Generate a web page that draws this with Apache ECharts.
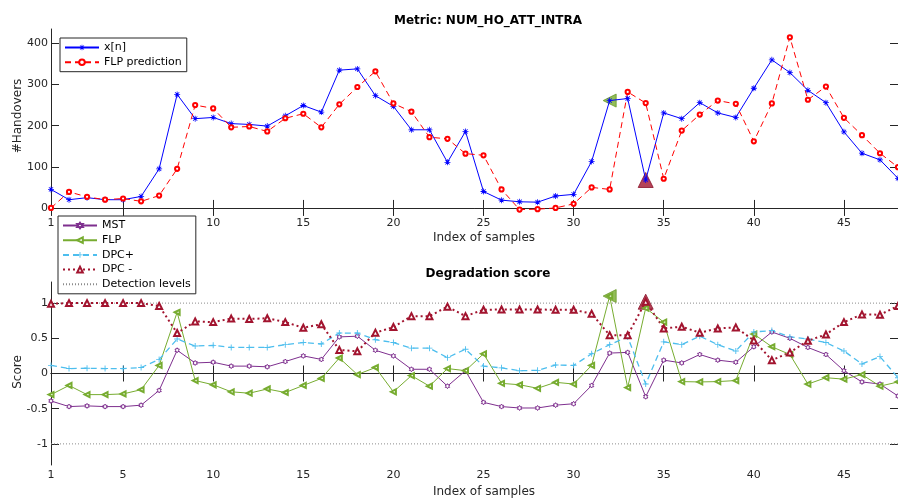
<!DOCTYPE html>
<html>
<head>
<meta charset="utf-8">
<script src="https://cdn.jsdelivr.net/npm/echarts@6/dist/echarts.min.js"></script>
<style>
  html, body { margin: 0; padding: 0; background: #fff; }
  #chart { width: 898px; height: 499px; }
</style>
</head>
<body>
<div id="chart"></div>
<script>
// sample index (x axis)
const sampleIdx = [1, 2, 3, 4, 5, 6, 7, 8, 9, 10, 11, 12, 13, 14, 15, 16, 17, 18, 19, 20, 21, 22, 23, 24,
  25, 26, 27, 28, 29, 30, 31, 32, 33, 34, 35, 36, 37, 38, 39, 40, 41, 42, 43, 44, 45, 46, 47, 48];
const xTicks = [1, 5, 10, 15, 20, 25, 30, 35, 40, 45];
const hoTicks = [0, 100, 200, 300, 400];
const scoreTicks = [-1, -0.5, 0, 0.5, 1];

// top plot: metric and its prediction
const xn = [45, 20, 25, 20, 20, 28, 95, 276, 217, 220, 205, 203, 199, 224, 249, 233, 335, 338, 273, 247, 190, 190, 111, 186,
  40, 19, 15, 14, 29, 33, 113, 261, 266, 68, 231, 217, 256, 231, 220, 291, 360, 329, 286, 256, 185, 133, 117, 72];
const flpPred = [0, 39, 27, 20, 23, 16, 30, 95, 250, 242, 196, 198, 186, 218, 229, 196, 252, 294, 332, 254, 234, 172, 168, 132,
  128, 45, -4, -3, 0, 10, 50, 45, 282, 255, 71, 188, 227, 261, 253, 162, 254, 415, 263, 295, 219, 177, 133, 99];

// bottom plot: degradation scores
const mst = [-0.39, -0.47, -0.46, -0.47, -0.47, -0.45, -0.24, 0.33, 0.15, 0.16, 0.105, 0.105, 0.095, 0.17, 0.25, 0.2,
  0.52, 0.53, 0.33, 0.25, 0.06, 0.06, -0.18, 0.04, -0.41, -0.47, -0.49, -0.49, -0.45, -0.43, -0.17, 0.29,
  0.3, -0.33, 0.19, 0.15, 0.27, 0.19, 0.16, 0.38, 0.59, 0.5, 0.37, 0.27, 0.04, -0.12, -0.15, -0.32];
const flpScore = [-0.3, -0.17, -0.3, -0.3, -0.29, -0.23, 0.115, 0.87, -0.1, -0.16, -0.26, -0.28, -0.22, -0.27, -0.17, -0.07,
  0.22, -0.015, 0.085, -0.26, -0.03, -0.18, 0.07, 0.04, 0.28, -0.14, -0.16, -0.21, -0.125, -0.15, 0.115, 1.1,
  -0.2, 0.93, 0.73, -0.115, -0.12, -0.115, -0.1, 0.56, 0.38, 0.27, -0.15, -0.06, -0.08, -0.015, -0.18, -0.12];
const dpcPlus = [0.115, 0.07, 0.075, 0.07, 0.07, 0.085, 0.2, 0.49, 0.39, 0.4, 0.37, 0.37, 0.37, 0.41, 0.44, 0.42,
  0.575, 0.575, 0.48, 0.44, 0.36, 0.36, 0.225, 0.345, 0.105, 0.08, 0.04, 0.045, 0.12, 0.115, 0.28, 0.41,
  0.52, -0.15, 0.45, 0.41, 0.53, 0.41, 0.32, 0.59, 0.61, 0.52, 0.49, 0.44, 0.32, 0.135, 0.24, -0.06];
const dpcMinus = [0.99, 1, 1, 1, 1, 1, 0.96, 0.575, 0.74, 0.73, 0.78, 0.775, 0.785, 0.73, 0.65, 0.7,
  0.335, 0.315, 0.58, 0.66, 0.815, 0.815, 0.95, 0.815, 0.905, 0.91, 0.91, 0.91, 0.905, 0.905, 0.85, 0.545,
  0.545, 1.02, 0.64, 0.665, 0.58, 0.64, 0.655, 0.47, 0.19, 0.3, 0.465, 0.555, 0.73, 0.84, 0.835, 0.96];
const detectionLevels = [1, -1];

// samples where an alarm was raised
const flpAlarmIdx = [32];
const dpcAlarmIdx = [34];

const FONT = 'DejaVu Sans';
const AX = '#262626';
const ASTERISK = 'path://M-1.3,-10L1.3,-10L1.3,10L-1.3,10Z M-10,-1.3L10,-1.3L10,1.3L-10,1.3Z ' +
  'M-6.2,-8L8,6.2L6.2,8L-8,-6.2Z M8,-6.2L-6.2,8L-8,6.2L6.2,-8Z';
const PLUS = 'path://M-1.5,-10L1.5,-10L1.5,10L-1.5,10Z M-10,-1.5L10,-1.5L10,1.5L-10,1.5Z';
const HEXAGRAM = 'path://M0,-10L2.89,-5L8.66,-5L5.77,0L8.66,5L2.89,5L0,10L-2.89,5L-8.66,5L-5.77,0L-8.66,-5L-2.89,-5Z';

function pairs(vals) {
  return sampleIdx.map((x, i) => [x, vals[i]]);
}
function alarmPts(idx, vals) {
  return idx.map(k => [k, vals[k - 1]]);
}

function xAxis(grid, pos, margin) {
  return {
    type: 'value', gridIndex: grid, position: pos, min: 1, max: 48,
    axisLine: { lineStyle: { color: AX, width: 1 } },
    axisTick: { inside: true, length: 8, customValues: xTicks, lineStyle: { color: AX } },
    axisLabel: { show: pos === 'bottom', customValues: xTicks, margin: margin,
      color: AX, fontSize: 11, fontFamily: FONT },
    splitLine: { show: false }
  };
}
function yAxis(grid, pos, min, max, ticks) {
  return {
    type: 'value', gridIndex: grid, position: pos, min: min, max: max,
    axisLine: { show: true, lineStyle: { color: AX, width: 1 } },
    axisTick: { show: true, inside: true, length: 8, customValues: ticks, lineStyle: { color: AX } },
    axisLabel: { show: pos === 'left', customValues: ticks, margin: 3,
      color: AX, fontSize: 11, fontFamily: FONT },
    splitLine: { show: false }
  };
}

function legendBox(names, left, top) {
  return {
    data: names, orient: 'vertical', left: left, top: top,
    itemWidth: 34, itemHeight: 7, itemGap: 3.7, padding: [4, 5, 4, 4],
    backgroundColor: '#fff', borderColor: AX, borderWidth: 1, borderRadius: 0,
    textStyle: { fontSize: 11, lineHeight: 11, fontFamily: FONT, color: '#000' }
  };
}

const chart = echarts.init(document.getElementById('chart'));

const option = {
  animation: false,
  backgroundColor: '#fff',
  grid: [
    { left: 51, top: 29, width: 853.5, height: 181 },
    { left: 51, top: 282, width: 853.5, height: 183 }
  ],
  xAxis: [xAxis(0, 'bottom', 8), xAxis(0, 'top', 8), xAxis(1, 'bottom', 5), xAxis(1, 'top', 5)],
  yAxis: [
    yAxis(0, 'left', -5, 435, hoTicks), yAxis(0, 'right', -5, 435, hoTicks),
    yAxis(1, 'left', -1.3, 1.3, scoreTicks), yAxis(1, 'right', -1.3, 1.3, scoreTicks)
  ],
  legend: [
    legendBox(['x[n]', 'FLP prediction'], 60, 38),
    legendBox(['MST', 'FLP', 'DPC+', 'DPC -',
      { name: 'Detection levels', itemStyle: { color: 'rgba(0,0,0,0)', borderWidth: 0 } }], 58, 216)
  ],
  graphic: [
    { type: 'text', x: 488, y: 20.5, style: { text: 'Metric: NUM_HO_ATT_INTRA',
      fill: '#000', font: 'bold 12px "DejaVu Sans"', align: 'center', verticalAlign: 'middle' } },
    { type: 'text', x: 488, y: 273.5, style: { text: 'Degradation score',
      fill: '#000', font: 'bold 12px "DejaVu Sans"', align: 'center', verticalAlign: 'middle' } },
    { type: 'text', x: 484, y: 238, style: { text: 'Index of samples',
      fill: AX, font: '12px "DejaVu Sans"', align: 'center', verticalAlign: 'middle' } },
    { type: 'text', x: 484, y: 492, style: { text: 'Index of samples',
      fill: AX, font: '12px "DejaVu Sans"', align: 'center', verticalAlign: 'middle' } },
    { type: 'text', x: 18, y: 116, rotation: Math.PI / 2, style: { text: '#Handovers',
      fill: AX, font: '12px "DejaVu Sans"', align: 'center', verticalAlign: 'middle' } },
    { type: 'text', x: 18, y: 372, rotation: Math.PI / 2, style: { text: 'Score',
      fill: AX, font: '12px "DejaVu Sans"', align: 'center', verticalAlign: 'middle' } }
  ],
  series: [
    // alarm markers (drawn under the lines)
    { type: 'scatter', name: 'flpAlarmTop', xAxisIndex: 0, yAxisIndex: 0, z: 1,
      data: alarmPts(flpAlarmIdx, xn), symbol: 'triangle', symbolRotate: 90, symbolSize: 13,
      itemStyle: { color: '#77AC30', borderColor: '#6a9a2a', borderWidth: 1 } },
    { type: 'scatter', name: 'dpcAlarmTop', xAxisIndex: 0, yAxisIndex: 0, z: 1,
      data: alarmPts(dpcAlarmIdx, xn), symbol: 'triangle', symbolSize: 15,
      itemStyle: { color: '#A2142F', borderColor: '#8a1128', borderWidth: 1 } },
    { type: 'line', name: 'x[n]', xAxisIndex: 0, yAxisIndex: 0, data: pairs(xn),
      symbol: ASTERISK, symbolSize: 6, color: '#0000FF',
      lineStyle: { color: '#0000FF', width: 1 }, itemStyle: { color: '#0000FF' } },
    { type: 'line', name: 'FLP prediction', xAxisIndex: 0, yAxisIndex: 0, data: pairs(flpPred),
      symbol: 'emptyCircle', symbolSize: 4.2, color: '#FF0000',
      lineStyle: { color: '#FF0000', width: 1, type: [6, 4] }, itemStyle: { color: '#FF0000', borderWidth: 1 } },

    { type: 'scatter', name: 'flpAlarmBottom', xAxisIndex: 2, yAxisIndex: 2, z: 1,
      data: alarmPts(flpAlarmIdx, flpScore), symbol: 'triangle', symbolRotate: 90, symbolSize: 13,
      itemStyle: { color: '#77AC30', borderColor: '#6a9a2a', borderWidth: 1 } },
    { type: 'scatter', name: 'dpcAlarmBottom', xAxisIndex: 2, yAxisIndex: 2, z: 1,
      data: alarmPts(dpcAlarmIdx, dpcMinus), symbol: 'triangle', symbolSize: 15,
      itemStyle: { color: '#A2142F', borderColor: '#8a1128', borderWidth: 1 } },
    { type: 'line', name: 'Detection levels', xAxisIndex: 2, yAxisIndex: 2, symbol: 'none',
      data: [[1, detectionLevels[0]], [48, detectionLevels[0]]], color: '#8c8c8c',
      lineStyle: { color: '#8c8c8c', width: 1, type: [1, 2] } },
    { type: 'line', name: 'Detection levels', xAxisIndex: 2, yAxisIndex: 2, symbol: 'none',
      data: [[1, detectionLevels[1]], [48, detectionLevels[1]]], color: '#8c8c8c',
      lineStyle: { color: '#8c8c8c', width: 1, type: [1, 2] } },
    { type: 'line', name: 'MST', xAxisIndex: 2, yAxisIndex: 2, data: pairs(mst),
      symbol: HEXAGRAM, symbolKeepAspect: true, symbolSize: 5, color: '#7E2F8E',
      lineStyle: { color: '#7E2F8E', width: 1 }, itemStyle: { color: '#fff', borderColor: '#7E2F8E', borderWidth: 1 } },
    { type: 'line', name: 'FLP', xAxisIndex: 2, yAxisIndex: 2, data: pairs(flpScore),
      symbol: 'emptyTriangle', symbolRotate: 90, symbolSize: 5, color: '#77AC30',
      lineStyle: { color: '#77AC30', width: 1 }, itemStyle: { color: '#77AC30', borderWidth: 1 } },
    { type: 'line', name: 'DPC+', xAxisIndex: 2, yAxisIndex: 2, data: pairs(dpcPlus),
      symbol: PLUS, symbolSize: 6, color: '#4DBEEE',
      lineStyle: { color: '#4DBEEE', width: 1.3, type: [6, 4] }, itemStyle: { color: '#4DBEEE' } },
    { type: 'line', name: 'DPC -', xAxisIndex: 2, yAxisIndex: 2, data: pairs(dpcMinus),
      symbol: 'emptyTriangle', symbolSize: 6, color: '#A2142F',
      lineStyle: { color: '#A2142F', width: 2, type: [2, 3] }, itemStyle: { color: '#A2142F', borderWidth: 2 } }
  ]
};

chart.setOption(option);

window.addEventListener('resize', function () {
  chart.resize();
});
</script>
</body>
</html>
